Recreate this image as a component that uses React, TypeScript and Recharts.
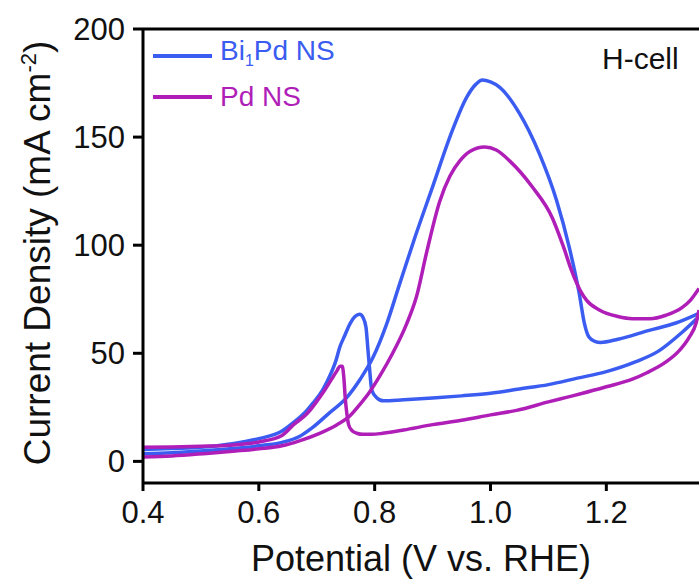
import { LineChart, Line, XAxis, YAxis, Legend, ReferenceLine, Label } from "recharts";

// Bi1Pd NS, forward (anodic) scan and the return scan
const biPdForward: [number, number][] = [
  [0.40, 3.5], [0.45, 4.0], [0.50, 4.8], [0.55, 5.8], [0.60, 7.2], [0.64, 8.8], [0.67, 11.5],
  [0.693, 15.7], [0.72, 22], [0.752, 29.6], [0.775, 38], [0.797, 48], [0.82, 63], [0.843, 82],
  [0.87, 104], [0.90, 127], [0.934, 153], [0.959, 168.5], [0.975, 174.5], [0.986, 176.4],
  [1.0, 175.5], [1.016, 173], [1.05, 161], [1.084, 142.6], [1.114, 120.8], [1.136, 99],
  [1.153, 78], [1.162, 64], [1.17, 57.5], [1.18, 55.5], [1.19, 55], [1.22, 56.5], [1.274, 60.6],
  [1.32, 64], [1.36, 68.5],
];
const biPdReverse: [number, number][] = [
  [1.36, 67], [1.33, 59.5], [1.29, 51], [1.25, 46], [1.20, 41.5], [1.15, 38.5], [1.10, 35.5],
  [1.05, 33.5], [1.00, 31.5], [0.95, 30.3], [0.90, 29.3], [0.85, 28.5], [0.815, 28], [0.803, 29.6],
  [0.795, 33], [0.791, 43.5], [0.788, 53], [0.785, 62], [0.78, 66.5], [0.774, 68], [0.766, 67],
  [0.758, 64], [0.748, 58], [0.740, 53], [0.733, 46.5], [0.725, 41], [0.71, 33], [0.693, 26.8],
  [0.683, 23.6], [0.66, 18], [0.64, 14], [0.60, 10.5], [0.55, 8], [0.50, 6.5], [0.45, 6], [0.40, 5.5],
];

// Pd NS
const pdForward: [number, number][] = [
  [0.40, 2], [0.45, 2.5], [0.51, 3.7], [0.56, 4.8], [0.60, 5.8], [0.64, 7.2], [0.67, 9.5],
  [0.705, 13], [0.735, 17], [0.757, 21], [0.775, 26.5], [0.791, 32], [0.81, 40], [0.831, 50],
  [0.855, 63.5], [0.872, 76], [0.89, 97], [0.912, 120], [0.93, 132], [0.947, 139], [0.965, 143.5],
  [0.99, 145.4], [1.01, 144], [1.033, 139], [1.072, 127], [1.107, 112.5], [1.125, 100], [1.141, 87.5],
  [1.155, 79], [1.166, 74.5], [1.188, 70], [1.22, 67], [1.245, 66], [1.275, 66], [1.303, 67.6],
  [1.33, 71], [1.345, 74.5], [1.36, 80],
];
const pdReverse: [number, number][] = [
  [1.36, 70], [1.355, 64], [1.343, 57.4], [1.325, 51], [1.303, 46], [1.27, 41], [1.245, 38],
  [1.20, 34.5], [1.159, 31.5], [1.131, 29.6], [1.10, 27.5], [1.045, 23.6], [1.00, 21.5],
  [0.95, 19], [0.90, 17], [0.85, 14.5], [0.814, 13], [0.795, 12.5], [0.78, 12.5], [0.769, 13],
  [0.760, 14.5], [0.755, 17], [0.752, 22], [0.749, 30], [0.747, 38], [0.744, 44], [0.740, 44],
  [0.735, 42], [0.728, 39], [0.715, 33.5], [0.705, 29.6], [0.683, 22], [0.66, 17], [0.64, 12],
  [0.60, 9], [0.55, 7.5], [0.50, 7], [0.45, 6.7], [0.40, 6.5],
];

const xTicks = [0.4, 0.6, 0.8, 1.0, 1.2];
const yTicks = [0, 50, 100, 150, 200];

const BLUE = "#3b5cf0";
const MAGENTA = "#b01eb8";
const FONT = "Arial, 'Liberation Sans', sans-serif";

// each sweep is monotone in potential, so sort it ascending and draw it as its own smooth line
const toPoints = (pairs: [number, number][]) =>
  [...pairs].sort((a, b) => a[0] - b[0]).map(([x, y]) => ({ x, y }));

const scans = [
  { key: "biF", data: toPoints(biPdForward), color: BLUE },
  { key: "biR", data: toPoints(biPdReverse), color: BLUE },
  { key: "pdF", data: toPoints(pdForward), color: MAGENTA },
  { key: "pdR", data: toPoints(pdReverse), color: MAGENTA },
];

const YTitle = () => (
  <text
    x={50}
    y={253}
    transform="rotate(-90 50 253)"
    textAnchor="middle"
    fontSize={37}
    fontFamily={FONT}
    fill="#111"
  >
    Current Density (mA cm
    <tspan fontSize={22} dy={-14}>-2</tspan>
    <tspan dy={14}>)</tspan>
  </text>
);

const XTitle = () => (
  <text x={421} y={571} textAnchor="middle" fontSize={36} fontFamily={FONT} fill="#111">
    Potential (V vs. RHE)
  </text>
);

const LegendBox = () => (
  <div style={{ fontFamily: FONT, fontSize: 28, lineHeight: "41px" }}>
    {[
      { name: "Bi", sub: "1", rest: "Pd NS", color: BLUE },
      { name: "Pd NS", sub: "", rest: "", color: MAGENTA },
    ].map((item) => (
      <div key={item.color} style={{ display: "flex", alignItems: "center", height: 41 }}>
        <span style={{ display: "inline-block", width: 59, height: 4, background: item.color, marginRight: 8 }} />
        <span style={{ color: item.color }}>
          {item.name}
          {item.sub && <sub style={{ fontSize: 16, verticalAlign: "-6px" }}>{item.sub}</sub>}
          {item.rest}
        </span>
      </div>
    ))}
  </div>
);

export default function App() {
  return (
    <div style={{ position: "relative", width: 699, height: 583, background: "#fff" }}>
      <style>{"body{margin:0}"}</style>
      <LineChart width={699} height={583} margin={{ top: 29, right: 0, bottom: 0, left: 63 }}>
        <XAxis
          dataKey="x"
          type="number"
          domain={[0.4, 1.36]}
          ticks={xTicks}
          allowDataOverflow
          tickFormatter={(v: number) => v.toFixed(1)}
          tick={{ fill: "#111", fontSize: 31, fontFamily: FONT }}
          tickSize={8}
          tickMargin={10}
          height={100}
          axisLine={{ stroke: "#000", strokeWidth: 3 }}
          tickLine={{ stroke: "#000", strokeWidth: 3 }}
        >
          <Label content={<XTitle />} />
        </XAxis>
        <YAxis
          type="number"
          domain={[-10, 200]}
          ticks={yTicks}
          allowDataOverflow
          width={80}
          tick={{ fill: "#111", fontSize: 31, fontFamily: FONT }}
          tickSize={10}
          tickMargin={8}
          axisLine={{ stroke: "#000", strokeWidth: 3 }}
          tickLine={{ stroke: "#000", strokeWidth: 3 }}
        >
          <Label content={<YTitle />} />
        </YAxis>
        <ReferenceLine y={200} stroke="#000" strokeWidth={3} />
        <Legend
          layout="vertical"
          align="center"
          verticalAlign="middle"
          content={<LegendBox />}
          wrapperStyle={{ position: "absolute", top: 35, left: 153, width: "auto" }}
        />
        {scans.map((s) => (
          <Line
            key={s.key}
            data={s.data}
            dataKey="y"
            type="monotone"
            stroke={s.color}
            strokeWidth={3.5}
            dot={false}
            isAnimationActive={false}
          />
        ))}
      </LineChart>
      <div
        style={{
          position: "absolute",
          top: 42,
          left: 602,
          fontFamily: FONT,
          fontSize: 30,
          color: "#111",
        }}
      >
        H-cell
      </div>
    </div>
  );
}
